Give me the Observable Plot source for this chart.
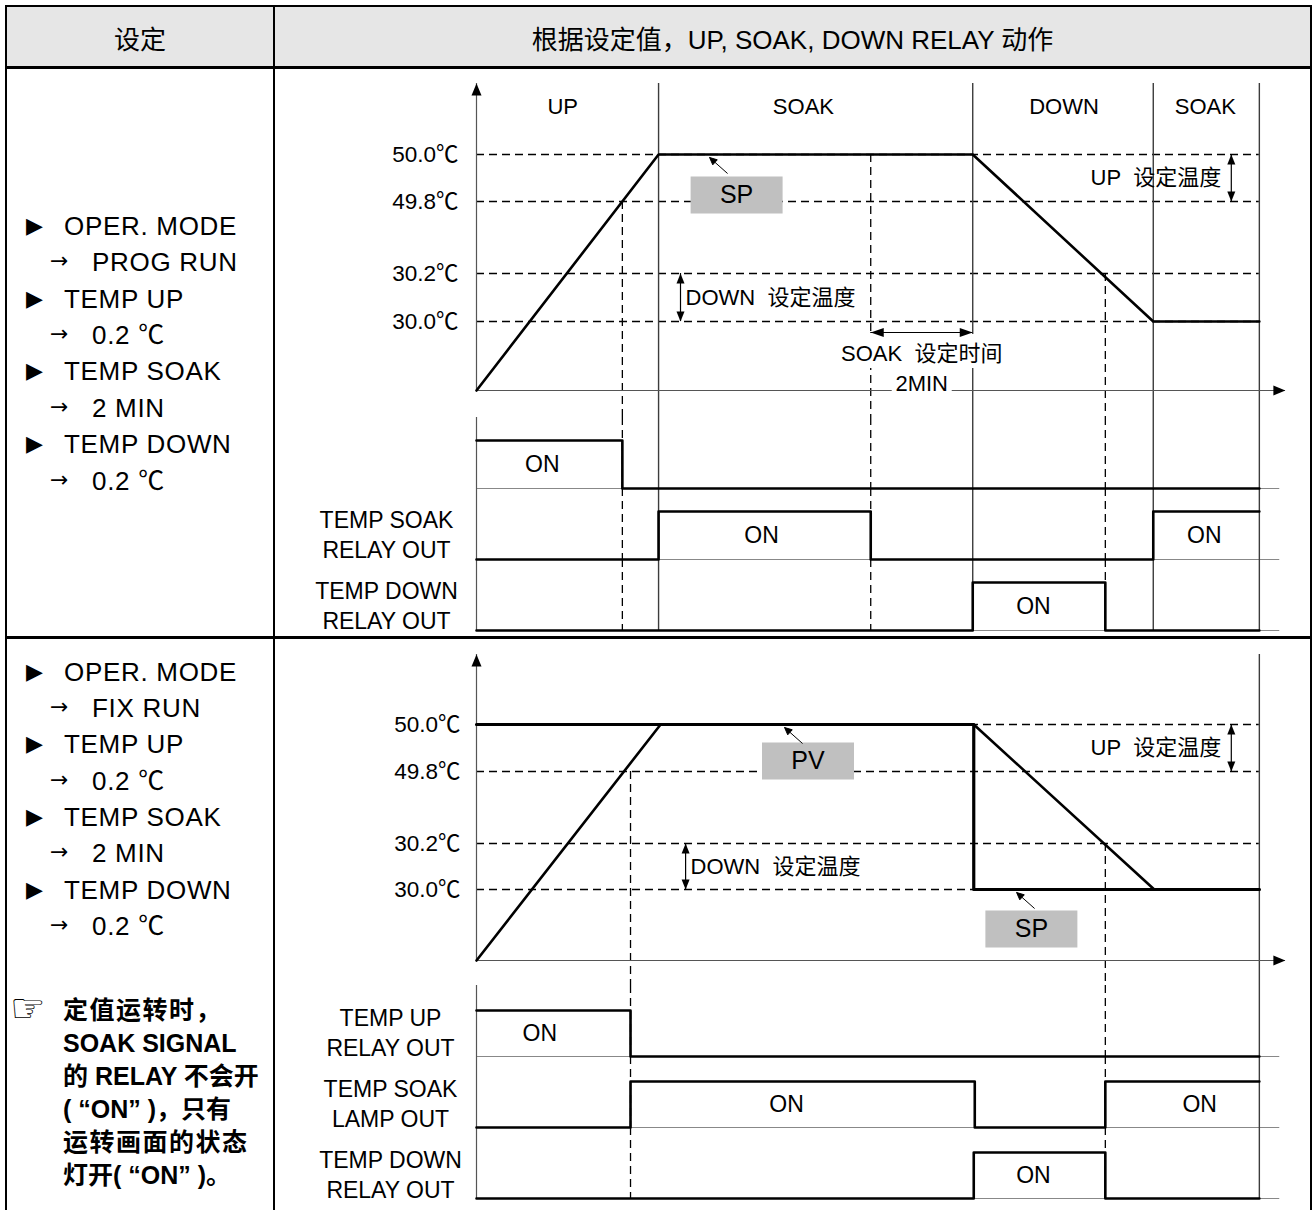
<!DOCTYPE html>
<html><head><meta charset="utf-8">
<script src="https://cdn.jsdelivr.net/npm/d3@7"></script>
<script src="https://cdn.jsdelivr.net/npm/@observablehq/plot@0.6"></script>
<style>
html,body{margin:0;padding:0;background:#fff;}
#page{position:relative;width:1313px;height:1210px;overflow:hidden;font-family:"Liberation Sans",Arial,"Noto Sans CJK SC",sans-serif;color:#000;}
.blk{position:absolute;background:#000;}
.hdr{position:absolute;top:7px;height:60px;display:flex;align-items:center;justify-content:center;font-size:26px;}
.ln{position:absolute;left:0;width:268px;white-space:pre;}
.mk,.tx{position:absolute;top:0;}
.plotbox{position:absolute;left:274px;width:1037px;}
.plotbox svg{overflow:visible;}
</style></head><body><div id="page">
<div style="position:absolute;left:5px;top:5px;width:1307px;height:63px;background:#e6e6e6"></div>
<div class="hdr" style="left:7px;width:266px">设定</div>
<div class="hdr" style="left:275px;width:1035px">根据设定值，UP, SOAK, DOWN RELAY 动作</div>
<div id="row1t" class="plotbox" style="top:68px"></div>
<div id="row1r" class="plotbox" style="top:417px"></div>
<div id="row2t" class="plotbox" style="top:638px"></div>
<div id="row2r" class="plotbox" style="top:985px"></div>
<div id="left"></div>
<div class="blk" style="left:5px;top:5px;width:1307px;height:2px"></div>
<div class="blk" style="left:5px;top:5px;width:2px;height:1215px"></div>
<div class="blk" style="left:1310px;top:5px;width:2px;height:1215px"></div>
<div class="blk" style="left:5px;top:66px;width:1307px;height:3px"></div>
<div class="blk" style="left:273px;top:5px;width:2px;height:1215px"></div>
<div class="blk" style="left:5px;top:636px;width:1307px;height:3px"></div>
</div>
<script>
// ---------------- data ----------------
const levelValues = [50.0, 49.8, 30.2, 30.0];
const levelLabels = ["50.0℃", "49.8℃", "30.2℃", "30.0℃"];
const relayNames = ["UP", "SOAK", "DOWN"];

// Row 1 : PROG RUN  (time in minutes, temperature in ℃)
const progPvTime = [0, 3.57, 9.73, 13.27, 15.35];
const progPvTemp = [25, 50.0, 50.0, 30.0, 30.0];
const progPhaseNames = ["UP", "SOAK", "DOWN", "SOAK"];
const progPhaseLabelTime = [1.69, 6.41, 11.52, 14.29];
const progBoundaryTime = [3.57, 9.73, 13.27, 15.35];
const progCrossTime = [2.86, 7.73, 12.33];
const progCrossTemp = [49.8, 50.0, 30.2];
const progSoakSpan = [7.73, 9.73];
const progUpArrowTime = 14.8;
const progDownArrowTime = 4.0;
const progCalloutLabel = ["SP"];
const progCalloutTipTime = [4.57];
const progCalloutBoxTime = [5.1];
const progCalloutTemp = [50.0];
const progCalloutOffset = [40.5];
const progUpTime = [0, 2.86, 15.35],              progUpState = [1, 0, 0];
const progSoakTime = [0, 3.57, 7.73, 13.27, 15.35], progSoakState = [0, 1, 0, 1, 1];
const progDownTime = [0, 9.73, 12.33, 15.35],     progDownState = [0, 1, 0, 0];
const progRelayLabels = ["", "TEMP SOAK\nRELAY OUT", "TEMP DOWN\nRELAY OUT"];
const progOnRelay = ["UP", "SOAK", "SOAK", "DOWN"];
const progOnTime = [1.29, 5.59, 14.27, 10.92];
const progSettings = [["▶","OPER. MODE"],["→","PROG RUN"],["▶","TEMP UP"],["→","0.2 ℃"],["▶","TEMP SOAK"],["→","2 MIN"],["▶","TEMP DOWN"],["→","0.2 ℃"]];

// Row 2 : FIX RUN
const fixPvTime = [0, 3.61, 9.75, 13.29, 15.35];
const fixPvTemp = [25, 50.0, 50.0, 30.0, 30.0];
const fixSpTime = [0, 9.75, 9.75, 15.35];
const fixSpTemp = [50.0, 50.0, 30.0, 30.0];
const fixBoundaryTime = [15.35];
const fixCrossTime = [3.02, 12.33];
const fixCrossTemp = [49.8, 30.2];
const fixUpArrowTime = 14.8;
const fixDownArrowTime = 4.1;
const fixCalloutLabel = ["PV", "SP"];
const fixCalloutTipTime = [6.04, 10.59];
const fixCalloutBoxTime = [6.5, 10.88];
const fixCalloutTemp = [50.0, 30.0];
const fixCalloutOffset = [36.5, 39.5];
const fixUpTime = [0, 3.02, 15.35],               fixUpState = [1, 0, 0];
const fixSoakTime = [0, 3.02, 9.77, 12.33, 15.35], fixSoakState = [0, 1, 0, 1, 1];
const fixDownTime = [0, 9.75, 12.33, 15.35],      fixDownState = [0, 1, 0, 0];
const fixRelayLabels = ["TEMP UP\nRELAY OUT", "TEMP SOAK\nLAMP OUT", "TEMP DOWN\nRELAY OUT"];
const fixOnRelay = ["UP", "SOAK", "SOAK", "DOWN"];
const fixOnTime = [1.24, 6.08, 14.18, 10.92];
const fixSettings = [["▶","OPER. MODE"],["→","FIX RUN"],["▶","TEMP UP"],["→","0.2 ℃"],["▶","TEMP SOAK"],["→","2 MIN"],["▶","TEMP DOWN"],["→","0.2 ℃"]];
const fixNote = ["定值运转时，", "SOAK SIGNAL", "的 RELAY 不会开", "( “ON” )，只有", "运转画面的状态", "灯开( “ON” )。"];

// ---------------- helpers ----------------
const FONT = '"Liberation Sans", Arial, "Noto Sans CJK SC", sans-serif';
const T_AXIS_END = 15.86, T_LEVEL_END = 15.35, T_BASE_END = 15.75;
const TEMP_BASE = 25, TEMP_TOP = 52, TEMP_FLOOR = 20;
const symTip = (hw, len) => ({draw(c){c.moveTo(0,0);c.lineTo(-hw,len);c.lineTo(hw,len);c.closePath();}});
const symBox = (w, h) => ({draw(c){c.rect(-w/2,-h/2,w,h);}});
const symCallout = {draw(c){c.moveTo(0,0);c.lineTo(3.2,7.3);c.lineTo(7.7,2.3);c.closePath();c.moveTo(0,0);c.lineTo(18,16);}};
const common = {width:1037, marginLeft:202, marginRight:19, marginTop:0,
  style:{fontFamily:FONT, background:"transparent", overflow:"visible"}};

function vArrow(t, hi, lo) {
  return [
    Plot.ruleX([t], {x:d=>d, y1:hi, y2:lo, stroke:"#000", strokeWidth:1.2}),
    Plot.dot([t], {x:d=>d, y:hi, symbol:symTip(4,10), fill:"#000", stroke:"none"}),
    Plot.dot([t], {x:d=>d, y:lo, symbol:symTip(4,10), rotate:180, fill:"#000", stroke:"none"})
  ];
}

function tempPlot(o) {
  const pvRows = o.pvTime.map((t,i)=>({t, temp:o.pvTemp[i]}));
  const marks = [
    Plot.ruleY(levelValues, {y:d=>d, x1:0, x2:T_LEVEL_END, stroke:"#000", strokeWidth:1.3, strokeDasharray:"8,5"}),
    Plot.ruleX(o.boundaryTime, {x:d=>d, y1:TEMP_TOP, y2:TEMP_FLOOR, stroke:"#3c3c3c", strokeWidth:1.4}),
    Plot.ruleX(o.crossTime, {x:d=>d, y1:(d,i)=>o.crossTemp[i], y2:TEMP_FLOOR, stroke:"#000", strokeWidth:1.3, strokeDasharray:"8,5"}),
    Plot.ruleX([0], {x:d=>d, y1:TEMP_BASE, y2:TEMP_TOP, stroke:"#555", strokeWidth:1.2}),
    Plot.ruleY([TEMP_BASE], {y:d=>d, x1:0, x2:T_AXIS_END, stroke:"#555", strokeWidth:1.2})
  ];
  if (o.soakSpan) {
    const mid = (o.soakSpan[0] + o.soakSpan[1]) / 2;
    marks.push(
      Plot.dot([mid], {x:d=>d, y:TEMP_BASE, dy:-39.5, symbol:symBox(176,34), fill:"#fff", stroke:"none"}),
      Plot.dot([mid], {x:d=>d, y:TEMP_BASE, dy:-9, symbol:symBox(60,24), fill:"#fff", stroke:"none"}),
      Plot.text([mid], {x:d=>d, y:TEMP_BASE, dy:-37, text:()=>"SOAK\u00a0 设定时间", fontSize:22}),
      Plot.text([mid], {x:d=>d, y:TEMP_BASE, dy:-7, text:()=>"2MIN", fontSize:22}),
      Plot.ruleY([30.0], {y:d=>d, x1:o.soakSpan[0], x2:o.soakSpan[1], dy:11, stroke:"#000", strokeWidth:1.2}),
      Plot.dot([o.soakSpan[0]], {x:d=>d, y:30.0, dy:11, symbol:symTip(4.5,13), rotate:-90, fill:"#000", stroke:"none"}),
      Plot.dot([o.soakSpan[1]], {x:d=>d, y:30.0, dy:11, symbol:symTip(4.5,13), rotate:90, fill:"#000", stroke:"none"})
    );
  }
  marks.push(
    Plot.dot([0], {x:d=>d, y:TEMP_TOP, symbol:symTip(5,12), fill:"#000", stroke:"none"}),
    Plot.dot([T_AXIS_END], {x:d=>d, y:TEMP_BASE, symbol:symTip(5,12), rotate:90, fill:"#000", stroke:"none"}),
    Plot.text(levelValues, {x:0, y:d=>d, text:(d,i)=>levelLabels[i], textAnchor:"end", dx:o.labelDx, fontSize:22.5})
  );
  if (o.phaseNames) marks.push(
    Plot.text(o.phaseNames, {x:(d,i)=>o.phaseTime[i], frameAnchor:"top", lineAnchor:"middle", dy:38, text:d=>d, fontSize:22})
  );
  if (o.spTime) marks.push(
    Plot.line(o.spTime.map((t,i)=>({t, temp:o.spTemp[i]})), {x:"t", y:"temp", stroke:"#000", strokeWidth:3.2})
  );
  marks.push(Plot.line(pvRows, {x:"t", y:"temp", stroke:"#000", strokeWidth:2.6}));
  marks.push(...vArrow(o.upArrowTime, 50.0, 49.8), ...vArrow(o.downArrowTime, 30.2, 30.0));
  marks.push(
    Plot.text([o.upArrowTime], {x:d=>d, y:49.9, dx:-10, textAnchor:"end", text:()=>"UP\u00a0 设定温度", fontSize:22}),
    Plot.text([o.downArrowTime], {x:d=>d, y:30.1, dx:5, textAnchor:"start", text:()=>"DOWN\u00a0 设定温度", fontSize:22})
  );
  o.calloutLabel.forEach((lab, i) => {
    const row = [{tip:o.calloutTipTime[i], bx:o.calloutBoxTime[i], temp:o.calloutTemp[i], lab}];
    marks.push(
      Plot.dot(row, {x:"bx", y:"temp", dy:o.calloutOffset[i], symbol:symBox(92,37), fill:"#c0c0c0", stroke:"none"}),
      Plot.text(row, {x:"bx", y:"temp", dy:o.calloutOffset[i], text:"lab", fontSize:25}),
      Plot.dot(row, {x:"tip", y:"temp", dy:3, symbol:symCallout, fill:"#000", stroke:"#000", strokeWidth:1})
    );
  });
  return Plot.plot({...common, height:o.height, marginBottom:0,
    x:{domain:[0,16], axis:null},
    y:{type:"linear", domain:[TEMP_FLOOR, TEMP_BASE, 30.0, 30.2, 49.8, 50.0, TEMP_TOP], range:o.yRange, axis:null},
    marks});
}

function relayPlot(o) {
  const rows = [];
  o.series.forEach(([name, ts, vs]) => ts.forEach((t,i)=>rows.push({relay:name, t, v:vs[i]})));
  const onRows = o.onRelay.map((r,i)=>({relay:r, t:o.onTime[i]}));
  const marks = [
    Plot.ruleY(relayNames, {fy:d=>d, y:0, x1:0, x2:T_BASE_END, stroke:"#888", strokeWidth:1.2}),
    Plot.ruleX(o.boundaryTime, {x:d=>d, stroke:"#3c3c3c", strokeWidth:1.4}),
    Plot.ruleX(o.crossTime, {x:d=>d, stroke:"#000", strokeWidth:1.3, strokeDasharray:"8,5"}),
    Plot.ruleX([0], {x:d=>d, stroke:"#555", strokeWidth:1.2}),
    Plot.line(rows, {x:"t", y:"v", fy:"relay", z:"relay", curve:"step-after", stroke:"#000", strokeWidth:2.6}),
    Plot.text(onRows, {x:"t", y:0.5, fy:"relay", text:()=>"ON", fontSize:23}),
    Plot.text(relayNames, {fy:d=>d, y:0.55, frameAnchor:"left", dx:o.labelDx, textAnchor:"middle", lineHeight:1.3, text:(d,i)=>o.labels[i], fontSize:23})
  ];
  return Plot.plot({...common, height:220, marginBottom:7,
    x:{domain:[0,16], axis:null},
    y:{domain:[0,1], axis:null, insetTop:o.insetTop, insetBottom:0},
    fy:{domain:relayNames, axis:null, padding:0},
    marks});
}

// ---------------- render ----------------
document.getElementById("row1t").append(tempPlot({
  height:349, yRange:[349, 322, 253, 205, 133, 86, 15], labelDx:-18,
  pvTime:progPvTime, pvTemp:progPvTemp, phaseNames:progPhaseNames, phaseTime:progPhaseLabelTime,
  boundaryTime:progBoundaryTime, crossTime:progCrossTime, crossTemp:progCrossTemp, soakSpan:progSoakSpan,
  upArrowTime:progUpArrowTime, downArrowTime:progDownArrowTime,
  calloutLabel:progCalloutLabel, calloutTipTime:progCalloutTipTime, calloutBoxTime:progCalloutBoxTime,
  calloutTemp:progCalloutTemp, calloutOffset:progCalloutOffset
}));
document.getElementById("row1r").append(relayPlot({
  insetTop:23, labelDx:-90, labels:progRelayLabels, boundaryTime:progBoundaryTime, crossTime:progCrossTime,
  series:[["UP",progUpTime,progUpState],["SOAK",progSoakTime,progSoakState],["DOWN",progDownTime,progDownState]],
  onRelay:progOnRelay, onTime:progOnTime
}));
document.getElementById("row2t").append(tempPlot({
  height:347, yRange:[347, 322, 251, 205, 133, 86, 16], labelDx:-16,
  pvTime:fixPvTime, pvTemp:fixPvTemp, spTime:fixSpTime, spTemp:fixSpTemp,
  boundaryTime:fixBoundaryTime, crossTime:fixCrossTime, crossTemp:fixCrossTemp,
  upArrowTime:fixUpArrowTime, downArrowTime:fixDownArrowTime,
  calloutLabel:fixCalloutLabel, calloutTipTime:fixCalloutTipTime, calloutBoxTime:fixCalloutBoxTime,
  calloutTemp:fixCalloutTemp, calloutOffset:fixCalloutOffset
}));
document.getElementById("row2r").append(relayPlot({
  insetTop:25, labelDx:-86, labels:fixRelayLabels, boundaryTime:fixBoundaryTime, crossTime:fixCrossTime,
  series:[["UP",fixUpTime,fixUpState],["SOAK",fixSoakTime,fixSoakState],["DOWN",fixDownTime,fixDownState]],
  onRelay:fixOnRelay, onTime:fixOnTime
}));

// left column
const left = document.getElementById("left");
function addSettings(items, firstCenter, spacing) {
  items.forEach(([mk, tx], i) => {
    const d = document.createElement("div");
    d.className = "ln";
    d.style.top = (firstCenter + i*spacing - spacing/2) + "px";
    d.style.height = spacing + "px";
    d.style.lineHeight = spacing + "px";
    const isTri = mk === "▶";
    const m = document.createElement("span");
    m.className = "mk";
    m.textContent = mk;
    m.style.left = (isTri ? 26 : 50) + "px";
    m.style.fontFamily = '"DejaVu Sans"';
    m.style.fontSize = "22px";
    if (!isTri) { m.style.top = "-1px"; }
    const t = document.createElement("span");
    t.className = "tx";
    t.textContent = tx;
    t.style.left = (isTri ? 64 : 92) + "px";
    t.style.fontSize = "26px";
    t.style.letterSpacing = "0.7px";
    d.append(m, t);
    left.append(d);
  });
}
addSettings(progSettings, 226, 36.4);
addSettings(fixSettings, 672, 36.3);
fixNote.forEach((tx, i) => {
  const spacing = 33;
  const d = document.createElement("div");
  d.className = "ln";
  d.style.top = (1010 + i*spacing - spacing/2) + "px";
  d.style.height = spacing + "px";
  d.style.lineHeight = spacing + "px";
  d.style.fontWeight = "bold";
  if (i === 0) {
    const m = document.createElement("span");
    m.className = "mk";
    m.textContent = "☞";
    m.style.left = "10px";
    m.style.top = "-2px";
    m.style.fontSize = "40px";
    m.style.fontWeight = "normal";
    m.style.fontFamily = '"DejaVu Sans","Noto Sans CJK SC"';
    d.append(m);
  }
  const t = document.createElement("span");
  t.className = "tx";
  t.textContent = tx;
  t.style.left = "63px";
  t.style.fontSize = "25px";
  if (!/[A-Za-z]/.test(tx)) t.style.letterSpacing = "1.5px";
  d.append(t);
  left.append(d);
});
</script>
</body></html>
